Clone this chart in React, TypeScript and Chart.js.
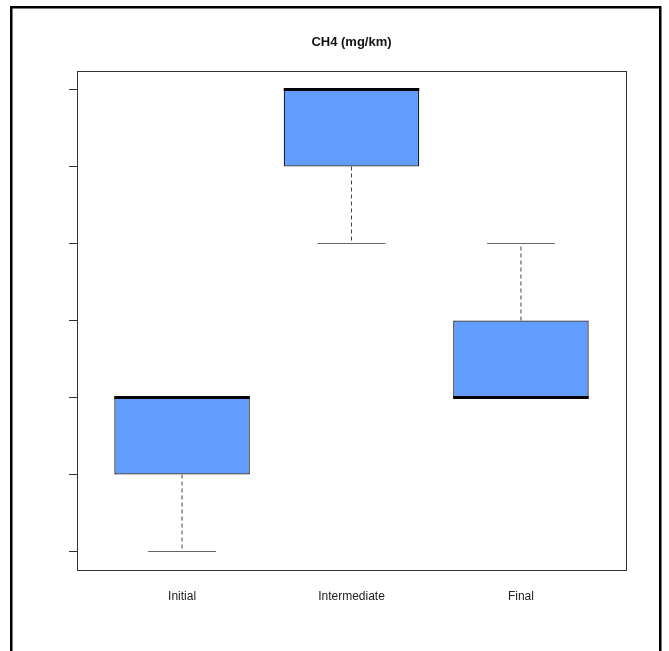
import React, { useEffect, useRef } from "react";
import { Chart, registerables } from "chart.js";

Chart.register(...registerables);

const categories = ["Initial", "Intermediate", "Final"];
const minValues = [1, 5, 3];
const q1Values = [2, 6, 3];
const medianValues = [3, 7, 3];
const q3Values = [3, 7, 4];
const maxValues = [3, 7, 5];
const yTickValues = [1, 2, 3, 4, 5, 6, 7];
const chartTitle = "CH4 (mg/km)";

const BOX_HALF = 0.4;
const CAP_HALF = 0.2;

const decorPlugin = {
  id: "decor",
  afterDraw(chart: any) {
    const ctx = chart.ctx;
    const { left, top, right, bottom } = chart.chartArea;
    ctx.save();
    // plot box
    ctx.strokeStyle = "#333";
    ctx.lineWidth = 1;
    ctx.strokeRect(Math.round(left) + 0.5, Math.round(top) + 0.5, Math.round(right - left), Math.round(bottom - top));
    // title
    ctx.fillStyle = "#111";
    ctx.font = "bold 13px 'Liberation Sans', Arial, sans-serif";
    ctx.textAlign = "center";
    ctx.textBaseline = "middle";
    ctx.fillText(chartTitle, (left + right) / 2, 42);
    // outer frame
    ctx.strokeStyle = "#000";
    ctx.lineWidth = 2.5;
    ctx.beginPath();
    ctx.moveTo(11.25, 651);
    ctx.lineTo(11.25, 7.25);
    ctx.lineTo(660.25, 7.25);
    ctx.lineTo(660.25, 651);
    ctx.stroke();
    ctx.restore();
  },
};

export default function App() {
  const ref = useRef<HTMLCanvasElement | null>(null);

  useEffect(() => {
    if (!ref.current) return;

    const boxes = categories.map((_, i) => ({ x: i + 1, y: [q1Values[i], q3Values[i]] }));

    const whiskers: any[] = [];
    const caps: any[] = [];
    const medians: any[] = [];
    categories.forEach((_, i) => {
      const x = i + 1;
      whiskers.push({ x, y: q1Values[i] }, { x, y: minValues[i] }, { x: x + 0.5, y: null });
      whiskers.push({ x, y: q3Values[i] }, { x, y: maxValues[i] }, { x: x + 0.5, y: null });
      caps.push({ x: x - CAP_HALF, y: minValues[i] }, { x: x + CAP_HALF, y: minValues[i] }, { x: x + 0.5, y: null });
      caps.push({ x: x - CAP_HALF, y: maxValues[i] }, { x: x + CAP_HALF, y: maxValues[i] }, { x: x + 0.5, y: null });
      medians.push({ x: x - BOX_HALF, y: medianValues[i] }, { x: x + BOX_HALF, y: medianValues[i] }, { x: x + 0.5, y: null });
    });

    const lineCommon = {
      type: "line" as const,
      pointRadius: 0,
      pointHoverRadius: 0,
      fill: false,
      tension: 0,
      spanGaps: false,
    };

    const chart = new Chart(ref.current, {
      type: "bar",
      data: {
        datasets: [
          {
            data: boxes as any,
            backgroundColor: "#619CFF",
            borderColor: "#222",
            borderWidth: 1.3,
            borderSkipped: false,
            barPercentage: 2 * BOX_HALF,
            categoryPercentage: 1,
            grouped: false,
            order: 4,
          } as any,
          { ...lineCommon, data: whiskers, borderColor: "#444", borderWidth: 1, borderDash: [4, 3], order: 3 } as any,
          { ...lineCommon, data: caps, borderColor: "#666", borderWidth: 1.2, order: 2 } as any,
          { ...lineCommon, data: medians, borderColor: "#000", borderWidth: 3, borderCapStyle: "butt", order: 1 } as any,
        ],
      },
      options: {
        animation: false,
        responsive: false,
        events: [],
        layout: { padding: { left: 0, top: 71, right: 43, bottom: 41 } },
        plugins: { legend: { display: false }, tooltip: { enabled: false }, title: { display: false } },
        scales: {
          x: {
            type: "linear",
            min: 0.38,
            max: 3.62,
            offset: false,
            grid: { display: false, drawTicks: false, offset: false },
            border: { display: false },
            afterBuildTicks: (scale: any) => {
              scale.ticks = categories.map((_, i) => ({ value: i + 1 }));
            },
            afterFit: (scale: any) => {
              scale.height = 40;
            },
            ticks: {
              padding: 19,
              autoSkip: false,
              maxRotation: 0,
              color: "#222",
              font: { family: "'Liberation Sans', Arial, sans-serif", size: 12 },
              callback: (v: any) => categories[Math.round(Number(v)) - 1] ?? "",
            },
          },
          y: {
            type: "linear",
            min: 0.76,
            max: 7.24,
            grid: { drawOnChartArea: false, drawTicks: true, tickLength: 8, color: "#333", tickColor: "#333" },
            border: { display: false },
            afterBuildTicks: (scale: any) => {
              scale.ticks = yTickValues.map((v) => ({ value: v }));
            },
            afterFit: (scale: any) => {
              scale.width = 77;
            },
            ticks: { callback: () => "" },
          },
        },
      },
      plugins: [decorPlugin],
    });

    return () => chart.destroy();
  }, []);

  return (
    <div style={{ position: "absolute", left: 0, top: 0, width: 669, height: 651, background: "#fff" }}>
      <canvas ref={ref} width={669} height={651} style={{ display: "block" }} />
    </div>
  );
}
